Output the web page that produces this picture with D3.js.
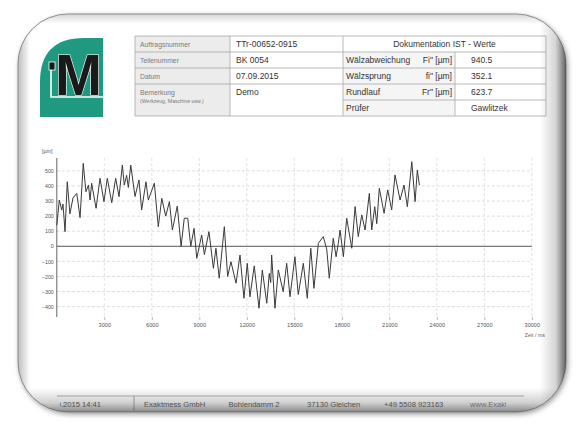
<!DOCTYPE html>
<html>
<head>
<meta charset="utf-8">
<script src="https://cdn.jsdelivr.net/npm/d3@7"></script>
<style>
  body { margin: 0; background: #fff; }
  svg { display: block; font-family: "Liberation Sans", Arial, sans-serif; }
</style>
</head>
<body>
<div id="chart"></div>
<script>
const timeMs = [0,160,310,390,520,660,830,1020,1260,1470,1670,1840,2000,2100,2200,2480,2730,2980,3190,3470,
  3720,3930,4140,4260,4410,4520,4670,4940,5190,5360,5630,5780,6160,6410,6630,6880,7110,7300,7610,7850,
  8050,8270,8460,8670,8840,9150,9320,9610,9890,10050,10260,10580,10790,11000,11320,11570,11820,12030,12200,12470,
  12770,12980,13260,13420,13510,13570,13780,13990,14300,14520,14730,15040,15250,15570,15820,16040,16240,16520,16830,17050,
  17210,17460,17640,17780,17890,18100,18310,18630,18840,19040,19260,19470,19740,19890,20080,20210,20370,20670,20900,21150,
  21360,21680,21930,22140,22420,22630,22770,22900];
const deviation = [140,307,240,280,97,428,215,320,351,190,550,362,406,307,418,252,451,296,451,289,
  451,329,539,406,470,390,539,330,440,241,428,307,418,130,318,200,296,108,267,0,
  186,186,0,119,-80,75,-55,97,-146,-13,-212,130,-200,-102,-245,-58,-345,-113,-335,-130,
  -411,-157,-378,-180,-240,-58,-411,-157,-301,-113,-335,-69,-320,-113,-345,-13,-279,20,64,-20,
  -212,53,-69,20,108,-69,186,-13,263,64,208,108,351,108,263,150,385,219,374,241,
  473,307,406,263,561,296,506,406];

const xTicks = [3000,6000,9000,12000,15000,18000,21000,24000,27000,30000];
const yTicks = [500,400,300,200,100,0,-100,-200,-300,-400];

// Kopftabelle
const leftLabels = ["Auftragsnummer", "Teilenummer", "Datum", "Bemerkung"];
const leftValues = ["TTr-00652-0915", "BK 0054", "07.09.2015", "Demo"];
const rightLabels = ["Wälzabweichung", "Wälzsprung", "Rundlauf", "Prüfer"];
const rightUnits = ["Fi\" [µm]", "fi\" [µm]", "Fr\" [µm]", ""];
const rightValues = ["940.5", "352.1", "623.7", "Gawlitzek"];
const footerItems = ["Exaktmess GmbH", "Bohlendamm 2", "37130 Gleichen", "+49 5508 923163"];

const W = 576, H = 423;
const svg = d3.select("#chart").append("svg").attr("width", W).attr("height", H);
const defs = svg.append("defs");

// Schatten + Clip für den Rahmen
const sh = defs.append("filter").attr("id", "shadow").attr("x", "-10%").attr("y", "-10%").attr("width", "120%").attr("height", "120%");
sh.append("feDropShadow").attr("dx", 1.5).attr("dy", 2).attr("stdDeviation", 2.5)
  .attr("flood-color", "#888").attr("flood-opacity", 0.8);

const frame = { x: 18, y: 14, w: 548, h: 398, r: 50 };
defs.append("clipPath").attr("id", "frameClip").append("rect")
  .attr("x", frame.x).attr("y", frame.y).attr("width", frame.w).attr("height", frame.h)
  .attr("rx", frame.r).attr("ry", frame.r);

function grad(id, x1, y1, x2, y2, stops) {
  const g = defs.append("linearGradient").attr("id", id)
    .attr("x1", x1).attr("y1", y1).attr("x2", x2).attr("y2", y2);
  stops.forEach((s) => g.append("stop").attr("offset", s[0]).attr("stop-color", s[1]).attr("stop-opacity", s[2]));
}
grad("gRight", 0, 0, 1, 0, [[0, "#555", 0], [0.6, "#555", 0.25], [1, "#444", 0.85]]);
grad("gBottom", 0, 0, 0, 1, [[0, "#666", 0], [0.6, "#666", 0.3], [1, "#555", 0.7]]);
grad("gLeft", 0, 0, 1, 0, [[0, "#888", 0.55], [1, "#888", 0]]);
grad("gTop", 0, 0, 0, 1, [[0, "#999", 0.4], [1, "#999", 0]]);

svg.append("rect")
  .attr("x", frame.x).attr("y", frame.y).attr("width", frame.w).attr("height", frame.h)
  .attr("rx", frame.r).attr("ry", frame.r)
  .attr("fill", "#fff").attr("stroke", "#8a8a8a").attr("stroke-width", 1)
  .attr("filter", "url(#shadow)");

const page = svg.append("g").attr("clip-path", "url(#frameClip)");

// Logo
const logo = page.append("g");
logo.append("path")
  .attr("d", "M40,117 L40,82 Q40,38 84,38 L103,38 L103,117 Z")
  .attr("fill", "#1f9a80");
logo.append("path")
  .attr("d", "M51,66 L51,97 L103,97")
  .attr("fill", "none").attr("stroke", "#fff").attr("stroke-width", 1.6);
logo.append("text")
  .attr("x", 55).attr("y", 95)
  .attr("font-size", 58).attr("font-weight", "bold")
  .attr("textLength", 47).attr("lengthAdjust", "spacingAndGlyphs")
  .attr("fill", "#1a1a1a").attr("stroke", "#fff").attr("stroke-width", 1.2)
  .attr("paint-order", "stroke")
  .text("M");
logo.append("rect").attr("x", 49).attr("y", 62).attr("width", 6).attr("height", 8)
  .attr("fill", "#1a1a1a").attr("stroke", "#fff").attr("stroke-width", 0.8);

// Tabelle
const tb = { top: 36, rowH: 16, c1: 135, c2: 230, c3: 343, c4: 455, right: 546 };
const table = page.append("g").attr("font-size", 8.5).attr("fill", "#333");
const rowY = (i) => tb.top + i * tb.rowH;

// Zellhintergründe
table.append("rect").attr("x", tb.c1).attr("y", rowY(0)).attr("width", tb.c2 - tb.c1).attr("height", 5 * tb.rowH)
  .attr("fill", "#ececec");
table.append("rect").attr("x", tb.c3).attr("y", rowY(1)).attr("width", tb.c4 - tb.c3).attr("height", 4 * tb.rowH)
  .attr("fill", "#f5f5f5");

const lineStyle = (sel) => sel.attr("stroke", "#a8a8a8").attr("stroke-width", 0.8);
// horizontale Linien
[0, 1, 2, 3, 5].forEach((i) => {
  table.append("line").attr("x1", tb.c1).attr("x2", tb.right).attr("y1", rowY(i)).attr("y2", rowY(i)).call(lineStyle);
});
table.append("line").attr("x1", tb.c3).attr("x2", tb.right).attr("y1", rowY(4)).attr("y2", rowY(4)).call(lineStyle);
// vertikale Linien
[tb.c1, tb.c2, tb.c3, tb.right].forEach((x) => {
  table.append("line").attr("x1", x).attr("x2", x).attr("y1", rowY(0)).attr("y2", rowY(5)).call(lineStyle);
});
table.append("line").attr("x1", tb.c4).attr("x2", tb.c4).attr("y1", rowY(1)).attr("y2", rowY(5)).call(lineStyle);

leftLabels.forEach((t, i) => {
  table.append("text").attr("x", tb.c1 + 5).attr("y", rowY(i) + 10.5)
    .attr("font-size", 6.8).attr("fill", "#7a7a7a").text(t);
});
table.append("text").attr("x", tb.c1 + 5).attr("y", rowY(3) + 19)
  .attr("font-size", 5.2).attr("fill", "#7a7a7a").text("(Werkzeug, Maschine usw.)");
leftValues.forEach((t, i) => {
  table.append("text").attr("x", tb.c2 + 6).attr("y", rowY(i) + 11).text(t);
});
table.append("text").attr("x", (tb.c3 + tb.right) / 2).attr("y", rowY(0) + 11)
  .attr("text-anchor", "middle").text("Dokumentation IST - Werte");
rightLabels.forEach((t, i) => {
  table.append("text").attr("x", tb.c3 + 3).attr("y", rowY(i + 1) + 11).text(t);
  table.append("text").attr("x", tb.c4 - 3).attr("y", rowY(i + 1) + 11)
    .attr("text-anchor", "end").text(rightUnits[i]);
  table.append("text").attr("x", tb.c4 + 16).attr("y", rowY(i + 1) + 11).text(rightValues[i]);
});

// Diagramm
const x = d3.scaleLinear().domain([0, 30000]).range([56.8, 531.8]);
const y = d3.scaleLinear().domain([-400, 500]).range([306.6, 170.9]);
const plotTop = 158, plotBottom = 317;
const chart = page.append("g");

// Gitter
chart.selectAll(".hgrid").data(yTicks.filter((d) => d !== 0)).join("line")
  .attr("x1", x(0)).attr("x2", x(30000)).attr("y1", (d) => y(d)).attr("y2", (d) => y(d))
  .attr("stroke", "#cfcfcf").attr("stroke-width", 0.7).attr("stroke-dasharray", "3,2");
chart.selectAll(".vgrid").data(xTicks).join("line")
  .attr("x1", (d) => x(d)).attr("x2", (d) => x(d)).attr("y1", plotTop).attr("y2", plotBottom)
  .attr("stroke", "#d4d4d4").attr("stroke-width", 0.7).attr("stroke-dasharray", "3,2");

// Achsen
const yAxis = chart.append("g").attr("transform", `translate(${x(0)},0)`)
  .call(d3.axisLeft(y).tickValues(yTicks).tickSize(0).tickPadding(3));
yAxis.select(".domain").remove();
yAxis.selectAll("text").attr("font-size", 5.3).attr("fill", "#555").attr("font-family", "Liberation Sans, Arial");

const xAxis = chart.append("g").attr("transform", `translate(0,${plotBottom})`)
  .call(d3.axisBottom(x).tickValues(xTicks).tickSize(3).tickPadding(3).tickFormat(d3.format("d")));
xAxis.select(".domain").remove();
xAxis.selectAll("line").attr("stroke", "#bbb");
xAxis.selectAll("text").attr("font-size", 5.6).attr("fill", "#555").attr("font-family", "Liberation Sans, Arial");

chart.append("line").attr("x1", x(0)).attr("x2", x(0)).attr("y1", plotTop).attr("y2", plotBottom)
  .attr("stroke", "#555").attr("stroke-width", 0.9);
chart.append("line").attr("x1", x(0)).attr("x2", x(30000)).attr("y1", y(0)).attr("y2", y(0))
  .attr("stroke", "#555").attr("stroke-width", 1);

chart.append("text").attr("x", 42).attr("y", 153).attr("font-size", 5.3).attr("fill", "#555").text("[µm]");
chart.append("text").attr("x", x(30000) + 3).attr("y", 337).attr("text-anchor", "middle")
  .attr("font-size", 5.3).attr("fill", "#666").text("Zeit / ms");

// Messkurve
const points = timeMs.map((t, i) => [t, deviation[i]]);
chart.append("path").datum(points)
  .attr("fill", "none").attr("stroke", "#3a3a3a").attr("stroke-width", 1)
  .attr("stroke-linejoin", "round")
  .attr("d", d3.line().x((d) => x(d[0])).y((d) => y(d[1])));

// Fußzeile
defs.append("clipPath").attr("id", "footClip").append("rect")
  .attr("x", 60).attr("y", 390).attr("width", 446).attr("height", 25);
const foot = page.append("g").attr("font-size", 7.6).attr("fill", "#444");
foot.append("line").attr("x1", 57).attr("x2", 524).attr("y1", 396).attr("y2", 396)
  .attr("stroke", "#9a9a9a").attr("stroke-width", 0.8);
foot.append("line").attr("x1", 134).attr("x2", 134).attr("y1", 396).attr("y2", 411)
  .attr("stroke", "#888").attr("stroke-width", 0.8);
const footText = foot.append("g").attr("clip-path", "url(#footClip)");
footText.append("text").attr("x", 101).attr("y", 407).attr("text-anchor", "end").text("07.09.2015 14:41");
const footX = [144, 228.5, 307, 384];
footerItems.forEach((t, i) => {
  footText.append("text").attr("x", footX[i]).attr("y", 407).text(t);
});
footText.append("text").attr("x", 470).attr("y", 407).attr("fill", "#777").text("www.Exaktmess.de");

// Rahmenschattierung
page.append("rect").attr("x", 540).attr("y", frame.y).attr("width", 26).attr("height", frame.h).attr("fill", "url(#gRight)");
page.append("rect").attr("x", frame.x).attr("y", 388).attr("width", frame.w).attr("height", 24).attr("fill", "url(#gBottom)");
page.append("rect").attr("x", frame.x).attr("y", frame.y).attr("width", 12).attr("height", frame.h).attr("fill", "url(#gLeft)");
page.append("rect").attr("x", frame.x).attr("y", frame.y).attr("width", frame.w).attr("height", 10).attr("fill", "url(#gTop)");
</script>
</body>
</html>
